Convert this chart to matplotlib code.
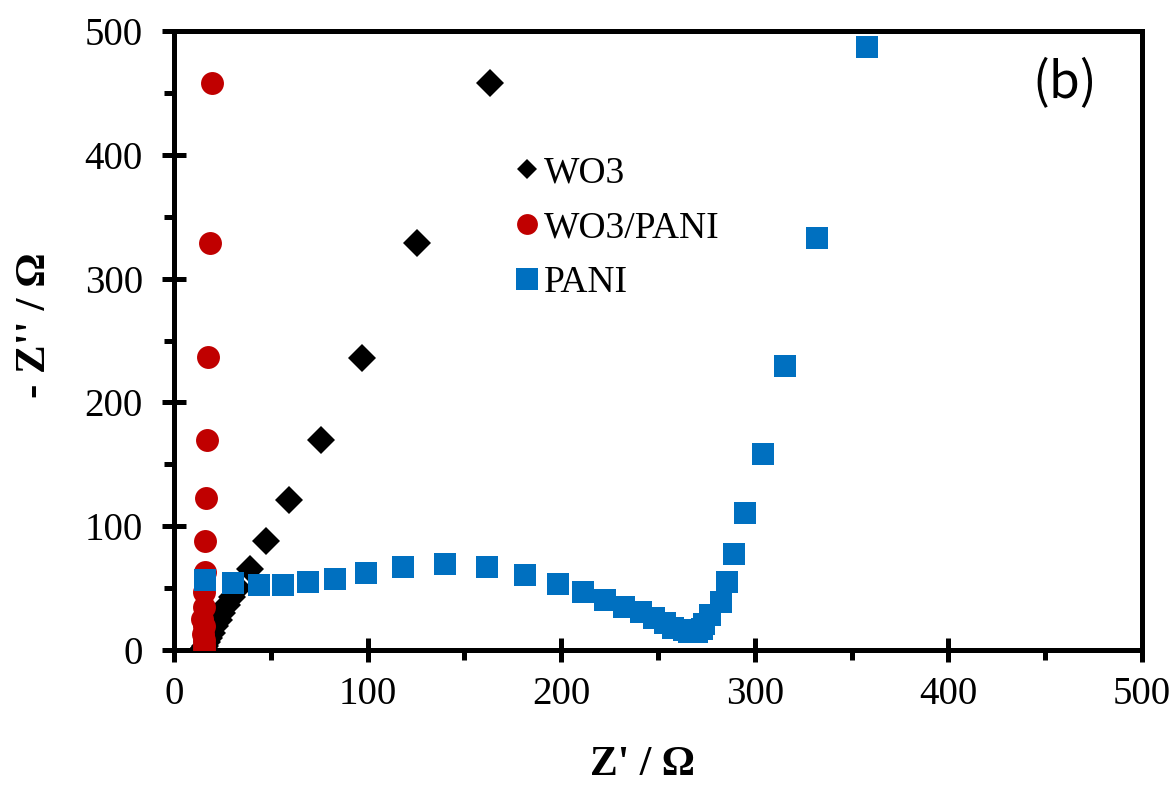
import matplotlib
matplotlib.use("Agg")
import matplotlib.pyplot as plt
from matplotlib.lines import Line2D
from matplotlib.ticker import MultipleLocator

# ---- data ----
wo3_x = [15.0, 15.5, 16.0, 17.0, 18.0, 19.5, 21.0, 23.0, 25.0, 27.5, 30.0, 33.0,
         39.3, 47.5, 59.4, 75.9, 97.1, 125.4, 163.2]
wo3_y = [0.5, 1.5, 3.5, 6.5, 10.0, 14.0, 19.0, 24.0, 30.0, 36.0, 43.0, 50.0,
         65.4, 88.0, 121.2, 169.6, 235.9, 328.5, 458.0]

wp_x = [15.5, 15.5, 15.5, 15.0, 14.5, 15.5, 15.5, 15.5, 16.0, 16.0,
        16.5, 17.0, 17.6, 18.4, 19.6]
wp_y = [0.5, 4.0, 8.0, 13.0, 25.0, 19.0, 35.0, 47.0, 63.0, 88.0,
        122.8, 169.6, 236.7, 328.5, 458.0]

pani_x = [16.0, 30.4, 44.0, 56.2, 69.1, 83.1, 99.2, 118.3, 140.0, 161.7, 181.3,
          198.3, 211.3, 222.6, 232.4, 241.2, 247.9, 253.6, 257.7, 263.4, 266.0,
          270.1, 272.7, 273.8, 276.9, 282.5, 285.6, 289.3, 295.0, 304.2, 315.6,
          332.0, 358.0]
pani_y = [56.5, 54.3, 52.9, 52.9, 55.2, 57.5, 62.6, 66.9, 69.3, 66.9, 60.6,
          53.3, 47.1, 40.4, 34.7, 30.3, 25.8, 21.8, 17.8, 16.2, 14.5,
          14.5, 17.0, 21.0, 28.3, 38.8, 54.9, 77.5, 110.7, 158.3, 229.4,
          333.0, 487.0]

labels = ["WO3", "WO3/PANI", "PANI"]
ticks = [0, 100, 200, 300, 400, 500]

RED = "#C00000"
BLUE = "#0070C0"
SERIF = "Liberation Serif"

fig = plt.figure(figsize=(11.74, 7.86), dpi=100)
ax = fig.add_axes([174 / 1174, 1 - 650 / 786, (1142 - 174) / 1174, (650 - 31) / 786])

ax.plot(wo3_x, wo3_y, linestyle="none", marker="D", ms=14, mew=0, color="black", zorder=3)
ax.plot(wp_x, wp_y, linestyle="none", marker="o", ms=16.5, mew=0, color=RED, zorder=4)
ax.plot(pani_x, pani_y, linestyle="none", marker="s", ms=15.5, mew=0, color=BLUE, zorder=5)

ax.set_xlim(0, 500)
ax.set_ylim(0, 500)
ax.set_xticks(ticks)
ax.set_yticks(ticks)
ax.xaxis.set_minor_locator(MultipleLocator(50))
ax.yaxis.set_minor_locator(MultipleLocator(50))

for s in ax.spines.values():
    s.set_linewidth(3.6)

ax.tick_params(which="major", direction="inout", length=17, width=3.6,
               labelsize=28, top=False, right=False)
ax.tick_params(axis="x", which="major", pad=10)
ax.tick_params(axis="y", which="major", pad=14)
ax.tick_params(which="minor", direction="out", length=7, width=3.6, top=False, right=False)
for lab in ax.get_xticklabels() + ax.get_yticklabels():
    lab.set_family(SERIF)

fig.text(642 / 1174, 1 - 765 / 786, "Z' / Ω", ha="center", va="center",
         fontsize=30, fontweight="bold", family=SERIF)
fig.text(35 / 1174, 1 - 325 / 786, "- Z'' / Ω", ha="center", va="center",
         rotation=90, fontsize=31, fontweight="bold", family=SERIF)

fig.text(1065 / 1174, 1 - 83 / 786, "(b)", ha="center", va="center",
         fontsize=36, family=["Noto Sans CJK SC", "DejaVu Sans"])

handles = [
    Line2D([], [], linestyle="none", marker="D", ms=10.5, mew=0, color="black"),
    Line2D([], [], linestyle="none", marker="o", ms=15, mew=0, color=RED),
    Line2D([], [], linestyle="none", marker="s", ms=15.5, mew=0, color=BLUE),
]
leg = ax.legend(handles, labels, loc="upper left",
                bbox_to_anchor=((516 - 174) / 968, (650 - 156) / 619),
                frameon=False, borderpad=0, borderaxespad=0, handlelength=0.6,
                handletextpad=0.15, labelspacing=0.54, numpoints=1,
                prop={"family": SERIF, "size": 27})

fig.savefig("out.png", dpi=100)
